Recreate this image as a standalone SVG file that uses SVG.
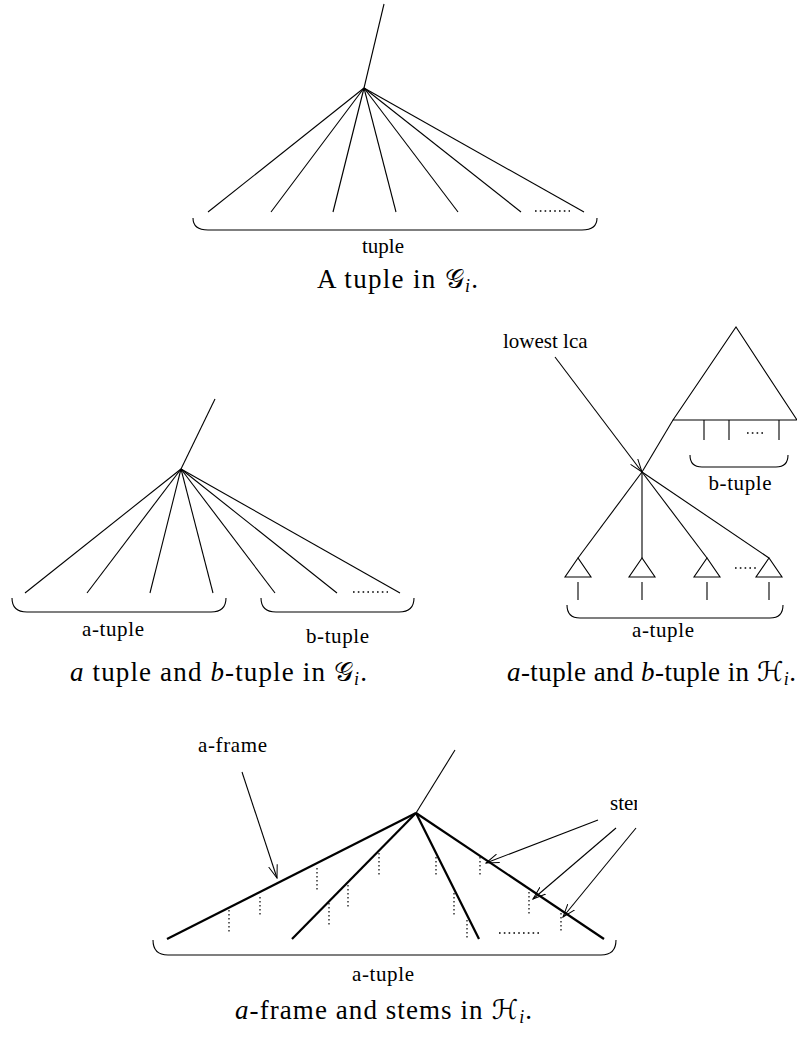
<svg xmlns="http://www.w3.org/2000/svg" width="797" height="1038" viewBox="0 0 797 1038">
<style>
.ln{stroke:#000;stroke-width:1.1;fill:none}
.tk{stroke:#000;stroke-width:2.2;fill:none}
.ds{stroke:#000;stroke-width:1.2;fill:none;stroke-dasharray:1.6,2.4}
.dt{stroke:#000;stroke-width:1.6;fill:none;stroke-dasharray:1.6,3.2}
.br{stroke:#000;stroke-width:1.1;fill:none}
.lb{font-family:'Liberation Serif','Times New Roman',serif;font-size:21px;fill:#000}
.cap{font-family:'Liberation Serif','Times New Roman',serif;font-size:27px;fill:#000}
.it{font-style:italic}
.math{font-family:'DejaVu Serif','DejaVu Sans','Noto Sans',serif;font-style:normal}
.sub{font-style:italic;font-size:18px}
</style>
<defs>
<marker id="ah" markerWidth="14" markerHeight="10" refX="13" refY="5" orient="auto" markerUnits="userSpaceOnUse">
<path d="M0,0.5 L13,5 L0,9.5" fill="none" stroke="#000" stroke-width="1"/>
</marker>
<clipPath id="clipR"><rect x="0" y="0" width="637" height="1038"/></clipPath>
</defs>

<!-- Figure 1: A tuple in G_i -->
<g id="fig1">
<g id="fig1-connectors">
<line class="ln" x1="384" y1="4" x2="364" y2="88"/>
<line class="ln" x1="364" y1="88" x2="208" y2="212"/>
<line class="ln" x1="364" y1="88" x2="271" y2="212"/>
<line class="ln" x1="364" y1="88" x2="333" y2="212"/>
<line class="ln" x1="364" y1="88" x2="396" y2="212"/>
<line class="ln" x1="364" y1="88" x2="458" y2="212"/>
<line class="ln" x1="364" y1="88" x2="521" y2="212"/>
<line class="ln" x1="364" y1="88" x2="584" y2="212"/>
</g>
<line id="fig1-dots" class="dt" x1="535" y1="211" x2="570" y2="211"/>
<path id="fig1-brace" class="br" d="M193,218 C193,226 198,230 208,230 L582,230 C592,230 597,226 597,218"/>
<text id="fig1-label" class="lb" x="383" y="253" text-anchor="middle">tuple</text>
<text id="fig1-caption" class="cap" x="317" y="288" textLength="161" lengthAdjust="spacing">A tuple in <tspan class="math">𝒢</tspan><tspan class="sub" dy="4">i</tspan><tspan dy="-4">.</tspan></text>
</g>

<!-- Figure 2: a tuple and b-tuple in G_i -->
<g id="fig2">
<g id="fig2-connectors">
<line class="ln" x1="215" y1="399" x2="181" y2="469"/>
<line class="ln" x1="181" y1="469" x2="25" y2="593"/>
<line class="ln" x1="181" y1="469" x2="87" y2="593"/>
<line class="ln" x1="181" y1="469" x2="150" y2="593"/>
<line class="ln" x1="181" y1="469" x2="213" y2="593"/>
<line class="ln" x1="181" y1="469" x2="275" y2="593"/>
<line class="ln" x1="181" y1="469" x2="337" y2="593"/>
<line class="ln" x1="181" y1="469" x2="400" y2="593"/>
</g>
<line id="fig2-dots" class="dt" x1="353" y1="592" x2="388" y2="592"/>
<path id="fig2-brace-a" class="br" d="M12,598 C12,607 17,612 27,612 L211,612 C221,612 226,607 226,598"/>
<path id="fig2-brace-b" class="br" d="M261,598 C261,607 266,612 276,612 L399,612 C409,612 414,607 414,598"/>
<text id="fig2-label-a" class="lb" x="82" y="636" textLength="62" lengthAdjust="spacing">a-tuple</text>
<text id="fig2-label-b" class="lb" x="306" y="643" textLength="63" lengthAdjust="spacing">b-tuple</text>
<text id="fig2-caption" class="cap" x="70" y="681" textLength="297" lengthAdjust="spacing"><tspan class="it">a</tspan> tuple and <tspan class="it">b</tspan>-tuple in <tspan class="math">𝒢</tspan><tspan class="sub" dy="4">i</tspan><tspan dy="-4">.</tspan></text>
</g>

<!-- Figure 3: a-tuple and b-tuple in H_i -->
<g id="fig3">
<text id="fig3-lca-label" class="lb" x="503" y="348">lowest lca</text>
<g id="fig3-connectors">
<line class="ln" x1="555" y1="357" x2="642" y2="472" marker-end="url(#ah)"/>
<line class="ln" x1="673" y1="420" x2="642" y2="472"/>
<line class="ln" x1="642" y1="472" x2="578" y2="558"/>
<line class="ln" x1="642" y1="472" x2="642" y2="558"/>
<line class="ln" x1="642" y1="472" x2="707" y2="558"/>
<line class="ln" x1="642" y1="472" x2="769" y2="558"/>
</g>
<path id="fig3-btree" class="ln" d="M673,420 L736,327 L797,420 Z"/>
<g id="fig3-bstems">
<line class="ln" x1="704" y1="420" x2="704" y2="440"/>
<line class="ln" x1="729" y1="420" x2="729" y2="440"/>
<line class="ln" x1="779" y1="420" x2="779" y2="440"/>
</g>
<line id="fig3-bdots" class="dt" x1="747" y1="433" x2="766" y2="433"/>
<path id="fig3-brace-b" class="br" d="M690,455 C690,463 694,467 702,467 L776,467 C784,467 788,463 788,455"/>
<text id="fig3-label-b" class="lb" x="740" y="490" text-anchor="middle" textLength="63" lengthAdjust="spacing">b-tuple</text>
<g id="fig3-subtrees">
<path class="ln" d="M578,558 L565,577 L591,577 Z"/>
<path class="ln" d="M642,558 L629,577 L655,577 Z"/>
<path class="ln" d="M707,558 L694,577 L720,577 Z"/>
<path class="ln" d="M769,558 L756,577 L782,577 Z"/>
<line class="ln" x1="578" y1="582" x2="578" y2="600"/>
<line class="ln" x1="642" y1="582" x2="642" y2="600"/>
<line class="ln" x1="707" y1="582" x2="707" y2="600"/>
<line class="ln" x1="769" y1="582" x2="769" y2="600"/>
</g>
<line id="fig3-adots" class="dt" x1="735" y1="568" x2="756" y2="568"/>
<path id="fig3-brace-a" class="br" d="M567,605 C567,614 571,618 580,618 L770,618 C779,618 783,614 783,605"/>
<text id="fig3-label-a" class="lb" x="663" y="637" text-anchor="middle" textLength="62" lengthAdjust="spacing">a-tuple</text>
<text id="fig3-caption" class="cap" x="507" y="681" textLength="289" lengthAdjust="spacing"><tspan class="it">a</tspan>-tuple and <tspan class="it">b</tspan>-tuple in <tspan class="math">ℋ</tspan><tspan class="sub" dy="4">i</tspan><tspan dy="-4">.</tspan></text>
</g>

<!-- Figure 4: a-frame and stems in H_i -->
<g id="fig4">
<text id="fig4-frame-label" class="lb" x="198" y="752" textLength="69" lengthAdjust="spacing">a-frame</text>
<text id="fig4-stems-label" class="lb" x="610" y="810" clip-path="url(#clipR)">stems</text>
<g id="fig4-connectors">
<line class="ln" x1="455" y1="750" x2="416" y2="813"/>
<line class="tk" x1="416" y1="813" x2="167" y2="939"/>
<line class="tk" x1="416" y1="813" x2="292" y2="939"/>
<line class="tk" x1="416" y1="813" x2="479" y2="939"/>
<line class="tk" x1="416" y1="813" x2="604" y2="939"/>
<line class="ln" x1="242" y1="772" x2="277" y2="878" marker-end="url(#ah)"/>
<line class="ln" x1="598" y1="820" x2="486" y2="863" marker-end="url(#ah)"/>
<line class="ln" x1="616" y1="828" x2="533" y2="899" marker-end="url(#ah)"/>
<line class="ln" x1="636" y1="828" x2="563" y2="917" marker-end="url(#ah)"/>
</g>
<g id="fig4-stems">
<line class="ds" x1="229" y1="910" x2="229" y2="933"/>
<line class="ds" x1="260" y1="897" x2="260" y2="915"/>
<line class="ds" x1="317" y1="868" x2="317" y2="890"/>
<line class="ds" x1="329" y1="903" x2="329" y2="927"/>
<line class="ds" x1="348" y1="885" x2="348" y2="908"/>
<line class="ds" x1="379" y1="853" x2="379" y2="877"/>
<line class="ds" x1="436" y1="857" x2="436" y2="877"/>
<line class="ds" x1="454" y1="893" x2="454" y2="915"/>
<line class="ds" x1="467" y1="920" x2="467" y2="940"/>
<line class="ds" x1="480" y1="857" x2="480" y2="877"/>
<line class="ds" x1="529" y1="892" x2="529" y2="915"/>
<line class="ds" x1="561" y1="913" x2="561" y2="933"/>
</g>
<line id="fig4-dots" class="dt" x1="499" y1="933" x2="539" y2="933"/>
<path id="fig4-brace" class="br" d="M153,940 C153,950 158,955 168,955 L601,955 C611,955 616,950 616,940"/>
<text id="fig4-label-a" class="lb" x="383" y="981" text-anchor="middle" textLength="62" lengthAdjust="spacing">a-tuple</text>
<text id="fig4-caption" class="cap" x="235" y="1019" textLength="297" lengthAdjust="spacing"><tspan class="it">a</tspan>-frame and stems in <tspan class="math">ℋ</tspan><tspan class="sub" dy="4">i</tspan><tspan dy="-4">.</tspan></text>
</g>
</svg>
